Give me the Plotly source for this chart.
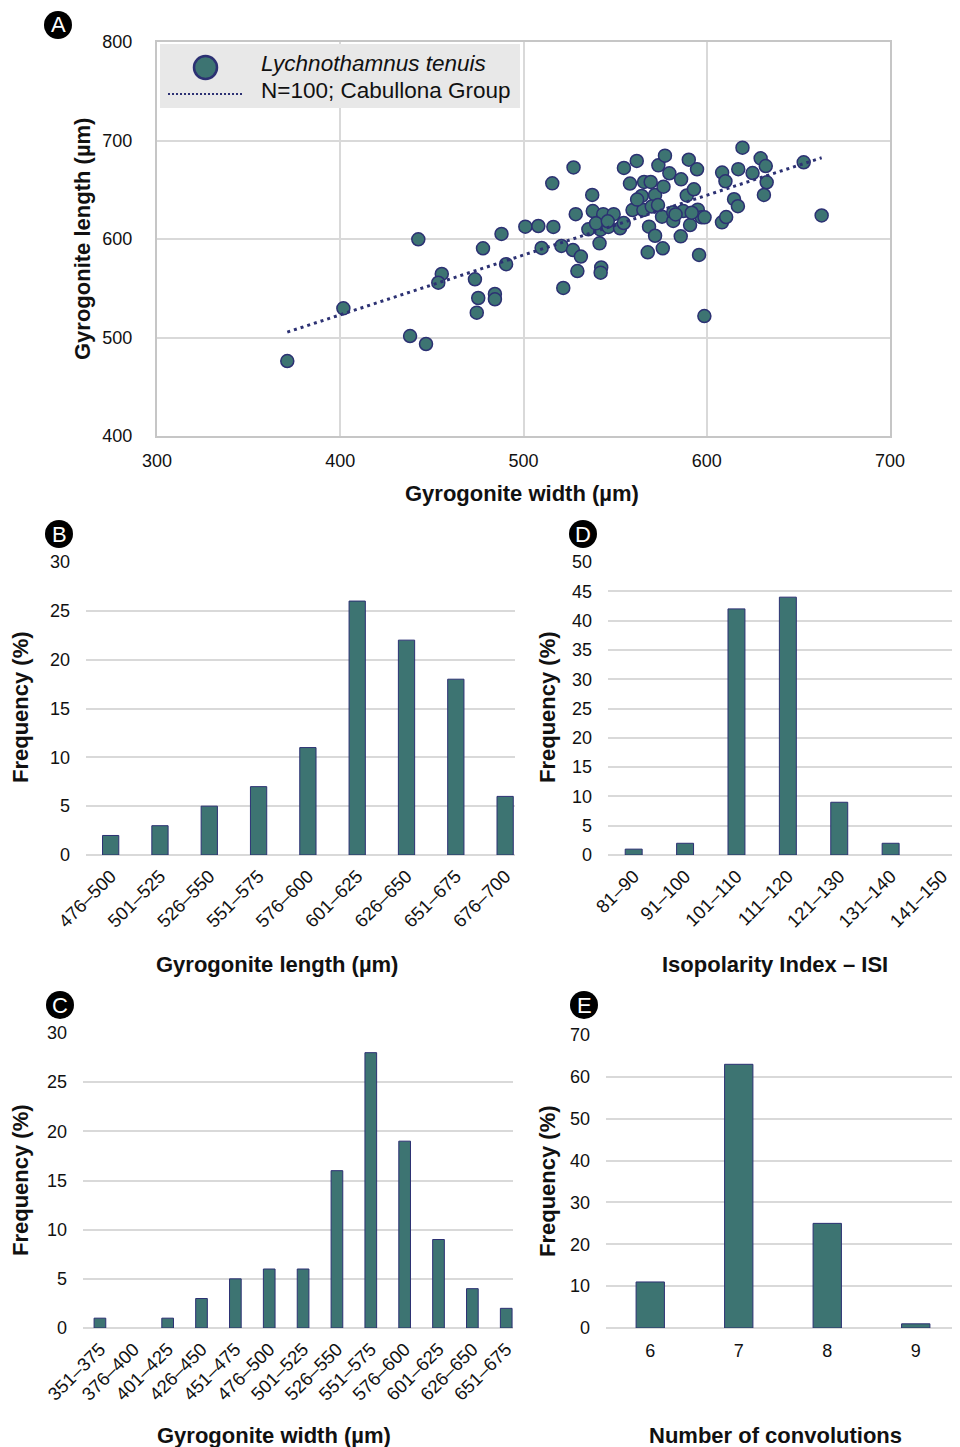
import numpy as np
import plotly.graph_objects as go

# ---------------- DATA ----------------
# Panel A: gyrogonite width (x) vs length (y), µm
width_um = [371.1, 401.7, 442.6, 438.1, 446.8, 455.4, 453.5, 473.5, 475.3, 474.5,
            484.4, 484.4, 477.9, 488.0, 490.5, 501.0, 508.1, 516.3, 515.7, 509.9,
            520.7, 521.7, 527.3, 528.5, 527.0, 531.3, 529.4, 537.5, 537.8, 535.4,
            541.5, 542.4, 542.1, 542.0, 543.5, 546.3, 549.2, 552.7, 554.7, 539.6,
            554.8, 561.8, 558.1, 565.8, 569.4, 564.5, 571.8, 576.4, 559.5, 565.4,
            570.0, 573.4, 568.5, 571.8, 567.8, 576.0, 573.6, 577.2, 579.6, 586.0,
            575.6, 581.7, 581.7, 587.2, 585.8, 590.2, 594.7, 589.1, 593.0, 590.9,
            595.1, 597.2, 598.8, 595.8, 598.7, 608.4, 610.2, 617.2, 625.0, 619.5,
            614.9, 617.0, 608.3, 610.6, 629.4, 632.2, 632.7, 631.2, 652.9, 662.7,
            591.8, 546.0, 562.0, 583.0]
length_um = [476.1, 529.6, 599.7, 501.5, 493.4, 564.5, 555.6, 559.1, 540.1, 525.2,
             544.2, 538.8, 590.6, 605.1, 574.4, 612.5, 613.2, 612.2, 656.5, 590.9,
             592.9, 550.3, 672.6, 625.2, 588.8, 582.2, 567.5, 644.7, 628.4, 609.8,
             595.6, 571.1, 565.8, 609.5, 625.2, 612.2, 625.2, 610.9, 616.2, 615.9,
             672.1, 679.2, 656.3, 657.9, 657.9, 643.7, 644.7, 653.1, 629.4, 629.4,
             633.0, 634.5, 612.5, 603.3, 586.5, 590.6, 674.8, 684.6, 666.7, 660.6,
             622.6, 618.3, 627.2, 628.4, 602.7, 680.5, 670.8, 644.2, 650.5, 614.2,
             629.8, 622.0, 622.0, 583.8, 521.8, 667.5, 658.6, 670.9, 667.0, 692.7,
             640.4, 633.3, 616.9, 622.3, 681.9, 674.1, 657.6, 644.7, 677.9, 623.9,
             626.7, 618.0, 640.0, 625.0]
legend_labels = ["<i>Lychnothamnus tenuis</i>", "N=100; Cabullona Group"]

# Panel B: gyrogonite length classes
length_classes = ["476–500", "501–525", "526–550", "551–575", "576–600",
                  "601–625", "626–650", "651–675", "676–700"]
length_freq = [2, 3, 5, 7, 11, 26, 22, 18, 6]

# Panel C: gyrogonite width classes
width_classes = ["351–375", "376–400", "401–425", "426–450", "451–475", "476–500",
                 "501–525", "526–550", "551–575", "576–600", "601–625", "626–650",
                 "651–675"]
width_freq = [1, 0, 1, 3, 5, 6, 6, 16, 28, 19, 9, 4, 2]

# Panel D: isopolarity index classes
isi_classes = ["81–90", "91–100", "101–110", "111–120", "121–130", "131–140", "141–150"]
isi_freq = [1, 2, 42, 44, 9, 2, 0]

# Panel E: number of convolutions
conv_classes = ["6", "7", "8", "9"]
conv_freq = [11, 63, 25, 1]

# ---------------- STYLE ----------------
PAGE_OFFSET = 8          # default body margin of the html page
W, H = 960 - PAGE_OFFSET, 1447 - PAGE_OFFSET
TEAL = "#3d7472"
NAVY = "#2c3173"
GRID = "#d9d9d9"
FONT = "Liberation Sans, Arial, Helvetica, sans-serif"


def px_x(p):
    return (p - PAGE_OFFSET) / W


def px_y(p):
    return 1 - (p - PAGE_OFFSET) / H


fig = go.Figure()

# ---- Panel A scatter ----
fig.add_trace(go.Scatter(
    x=width_um, y=length_um, mode="markers",
    name="Lychnothamnus tenuis",
    marker=dict(size=13, color=TEAL, line=dict(color=NAVY, width=1.5)),
    xaxis="x", yaxis="y", showlegend=False,
))
slope, intercept = np.polyfit(width_um, length_um, 1)
tx = [min(width_um), max(width_um)]
ty = [slope * v + intercept for v in tx]
fig.add_trace(go.Scatter(
    x=tx, y=ty, mode="lines", name="Linear trend",
    line=dict(color=NAVY, width=3, dash="3px,4px"),
    xaxis="x", yaxis="y", showlegend=False,
))


def bar(cats, vals, width, xa, ya):
    return go.Bar(
        x=cats, y=vals, width=width, xaxis=xa, yaxis=ya, showlegend=False,
        marker=dict(color=TEAL,
                    line=dict(color=NAVY, width=[1 if v > 0 else 0 for v in vals])),
        hoverinfo="x+y",
    )


fig.add_trace(bar(length_classes, length_freq, 0.33, "x2", "y2"))
fig.add_trace(bar(isi_classes, isi_freq, 0.33, "x3", "y3"))
fig.add_trace(bar(width_classes, width_freq, 0.345, "x4", "y4"))
fig.add_trace(bar(conv_classes, conv_freq, 0.32, "x5", "y5"))

tickfont = dict(family=FONT, size=18, color="#111111")

layout = dict(
    width=W, height=H, margin=dict(l=0, r=0, t=0, b=0, autoexpand=False),
    paper_bgcolor="white", plot_bgcolor="white",
    font=dict(family=FONT, color="#111111"),
    showlegend=False,
    # Panel A
    xaxis=dict(domain=[px_x(157), px_x(890)], range=[300, 700], dtick=100,
               showgrid=True, gridcolor=GRID, gridwidth=2, zeroline=False,
               showline=True, linecolor="#c6c6c6", linewidth=2, mirror=True,
               ticks="", tickfont=tickfont, ticklabelstandoff=7, anchor="y",
               automargin=False),
    yaxis=dict(domain=[px_y(436), px_y(42)], range=[400, 800], dtick=100,
               showgrid=True, gridcolor=GRID, gridwidth=2, zeroline=False,
               showline=True, linecolor="#c6c6c6", linewidth=2, mirror=True,
               ticks="", tickfont=tickfont, ticklabelstandoff=19, anchor="x",
               automargin=False),
)

hist_axes = {
    "2": dict(xd=[86, 515], yd=[855, 562], xr=[-0.5, 8.2], yr=[0, 30], dt=5),
    "3": dict(xd=[608, 960], yd=[855, 562], xr=[-0.5, 6.35], yr=[0, 50], dt=5),
    "4": dict(xd=[83, 513], yd=[1328, 1033], xr=[-0.5, 12.2], yr=[0, 30], dt=5),
    "5": dict(xd=[606, 960], yd=[1328, 1035], xr=[-0.5, 3.5], yr=[0, 70], dt=10),
}
for k, a in hist_axes.items():
    angled = k != "5"
    layout["xaxis" + k] = dict(
        domain=[px_x(a["xd"][0]), px_x(a["xd"][1])], range=a["xr"],
        type="category", anchor="y" + k, showgrid=False, zeroline=False,
        showline=False, ticks="", automargin=False,
        tickangle=-45 if angled else 0,
        tickfont=dict(family=FONT, size=18.5 if angled else 18, color="#111111"),
        ticklabelstandoff=6 if angled else 10,
    )
    layout["yaxis" + k] = dict(
        domain=[px_y(a["yd"][0]), px_y(a["yd"][1])], range=a["yr"], dtick=a["dt"],
        anchor="x" + k, showgrid=True, gridcolor=GRID, gridwidth=2,
        zeroline=True, zerolinecolor=GRID, zerolinewidth=2, automargin=False,
        showline=False, ticks="", tickfont=tickfont, ticklabelstandoff=15,
    )

fig.update_layout(**layout)

# ---- legend box for panel A ----
fig.add_shape(type="rect", xref="paper", yref="paper",
              x0=px_x(160), x1=px_x(520), y0=px_y(108), y1=px_y(44),
              fillcolor="#e8e8e8", line=dict(width=0), layer="above")
fig.add_shape(type="circle", xref="paper", yref="paper",
              x0=px_x(194), x1=px_x(217), y0=px_y(79), y1=px_y(56),
              fillcolor=TEAL, line=dict(color=NAVY, width=2.5), layer="above")
fig.add_shape(type="line", xref="paper", yref="paper",
              x0=px_x(168), x1=px_x(243), y0=px_y(94), y1=px_y(94),
              line=dict(color=NAVY, width=2, dash="2px,2px"), layer="above")
for lbl, ly in zip(legend_labels, [63, 90]):
    fig.add_annotation(text=lbl, x=px_x(259), y=px_y(ly), xref="paper", yref="paper",
                       showarrow=False, xanchor="left", yanchor="middle",
                       font=dict(family=FONT, size=22.5, color="#111111"))

# ---- axis titles ----
title_font = dict(family=FONT, size=22, color="#111111")
titles = [
    ("Gyrogonite width (µm)", 522, 493, 0),
    ("Gyrogonite length (µm)", 83, 239, -90),
    ("Gyrogonite length (µm)", 277, 965, 0),
    ("Frequency (%)", 20, 707, -90),
    ("Isopolarity Index – ISI", 775, 965, 0),
    ("Frequency (%)", 547, 707, -90),
    ("Gyrogonite width (µm)", 274, 1435, 0),
    ("Frequency (%)", 20, 1180, -90),
    ("Number of convolutions", 775, 1435, 0),
    ("Frequency (%)", 547, 1181, -90),
]
for text, x, y, ang in titles:
    fig.add_annotation(text="<b>%s</b>" % text, x=px_x(x), y=px_y(y),
                       xref="paper", yref="paper", showarrow=False,
                       xanchor="center", yanchor="middle", textangle=ang,
                       font=title_font)

# ---- panel letters ----
panels = [("A", 58, 25), ("B", 59, 534), ("D", 583, 534), ("C", 60, 1005), ("E", 584, 1005)]
r = 14
for letter, cx, cy in panels:
    fig.add_shape(type="circle", xref="paper", yref="paper",
                  x0=px_x(cx - r), x1=px_x(cx + r), y0=px_y(cy + r), y1=px_y(cy - r),
                  fillcolor="black", line=dict(color="black", width=0), layer="above")
    fig.add_annotation(text=letter, x=px_x(cx), y=px_y(cy), xref="paper", yref="paper",
                       showarrow=False, xanchor="center", yanchor="middle",
                       font=dict(family=FONT, size=22, color="white"))

fig.write_html("out.html")
